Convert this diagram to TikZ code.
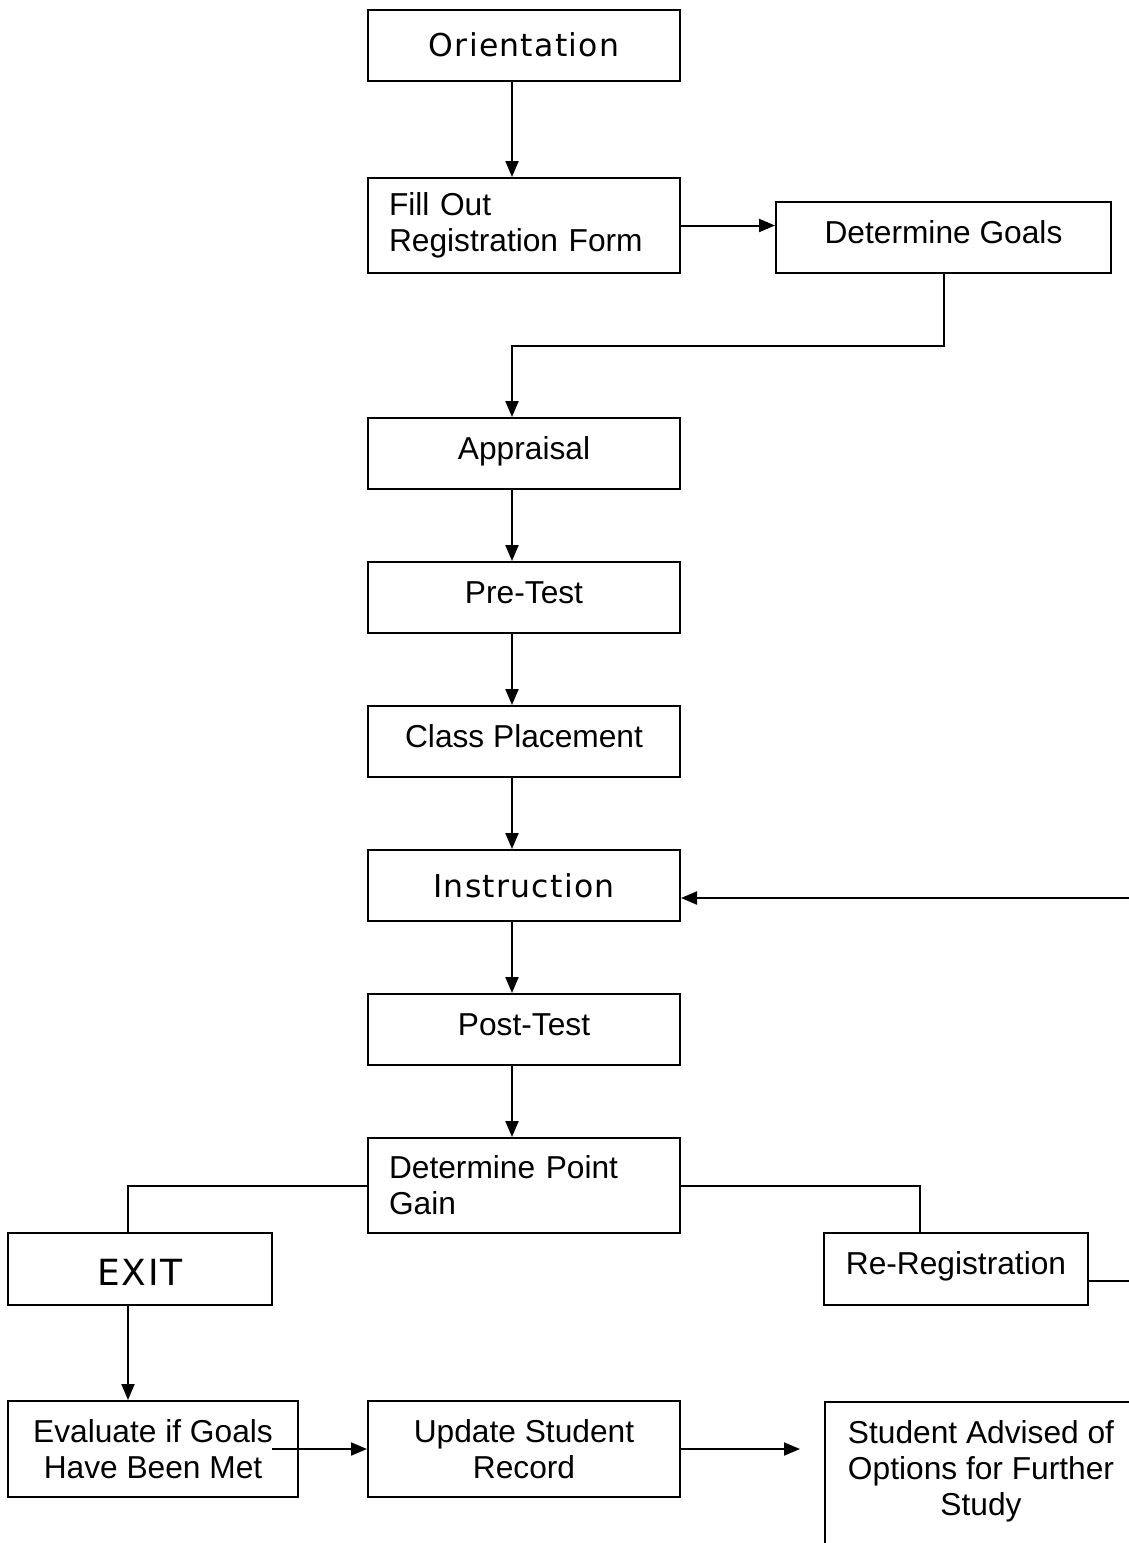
\documentclass[tikz,border=0pt]{standalone}
\usepackage{fontspec}
\setmainfont{Liberation Sans}
\newfontfamily\widefont[LetterSpace=4]{DejaVu Sans}
\usetikzlibrary{arrows.meta,calc}

\tikzset{
  stepbox/.style={draw,line width=2pt,minimum width=312pt,minimum height=71pt,
    inner sep=0pt,font=\fontsize{31.7}{36}\selectfont},
  onebox/.style={stepbox,text height=23pt,text depth=12pt},
  leftbox/.style={stepbox,align=left,text width=270pt,minimum height=95pt},
  midbox/.style={stepbox,align=center,minimum height=96pt},
  wide/.style={font=\fontsize{31.5}{36}\widefont},
  link/.style={line width=2pt},
}

\begin{document}
\begin{tikzpicture}[>={Triangle[length=16pt,width=13pt]},x=1pt,y=-1pt]
		\useasboundingbox (0,0) rectangle (1129,1543);
		\clip (0,0) rectangle (1129,1543);
		% main column
		\node[stepbox,wide] (orient) at (524,45) {Orientation};
		\node[leftbox] (fill) at (524,225.5) {Fill Out\\Registration Form};
		\node[onebox,minimum width=335pt] (goals) at (943.5,237.5) {Determine Goals};
		\node[onebox] (apprais) at (524,453.5) {Appraisal};
		\node[onebox] (pretest) at (524,597.5) {Pre-Test};
		\node[onebox] (place) at (524,741.5) {Class Placement};
		\node[stepbox,wide] (instr) at (524,885.5) {Instruction};
		\node[onebox] (posttest) at (524,1029.5) {Post-Test};
		\node[leftbox] (gain) at (524,1185.5) {Determine Point\\Gain};
		% branches
		\node[stepbox,font={\fontsize{36}{40}\widefont},minimum width=264pt,minimum height=72pt,text height=32pt,text depth=0pt] (exit) at (140,1269) {EXIT};
		\node[onebox,minimum width=264pt,minimum height=72pt] (rereg) at (956,1269) {Re-Registration};
		\node[midbox,minimum width=290pt] (eval) at (153,1449) {Evaluate if Goals\\Have Been Met};
		\node[midbox] (update) at (524,1449) {Update Student\\Record};
		\node[stepbox,align=center,anchor=north west,inner ysep=19pt,text depth=90pt] (advised) at (824,1401) {Student Advised of\\Options for Further\\Study};
		\coordinate (spine) at (512,0);
		\coordinate (turn) at (512,346);
		\coordinate (exitcol) at (128,0);
		\coordinate (loop) at (1160,1281);
		% connectors
		\draw[link,->] (orient.south -| spine) -- (fill.north -| spine);
		\draw[link,->] (fill.east) -- (fill.east -| goals.west);
		\draw[link,->] (goals.south) |- (turn) -- (apprais.north -| spine);
		\draw[link,->] (apprais.south -| spine) -- (pretest.north -| spine);
		\draw[link,->] (pretest.south -| spine) -- (place.north -| spine);
		\draw[link,->] (place.south -| spine) -- (instr.north -| spine);
		\draw[link,->] (instr.south -| spine) -- (posttest.north -| spine);
		\draw[link,->] (posttest.south -| spine) -- (gain.north -| spine);
		\draw[link] (gain.west) -| (exit.north -| exitcol);
		\draw[link] (gain.east) -| ($(rereg.north)+(-36pt,0pt)$);
		\draw[link,->] (rereg.east |- loop) -- (loop) |- ($(instr.east)+(0pt,-12.5pt)$);
		\draw[link,->] (exit.south -| exitcol) -- (eval.north -| exitcol);
		\draw[link,->] ($(eval.east)+(-27pt,0pt)$) -- (update.west);
		\draw[link,->] (update.east) -- ($(update.east -| advised.west)+(-24pt,0pt)$);
\end{tikzpicture}
\end{document}
